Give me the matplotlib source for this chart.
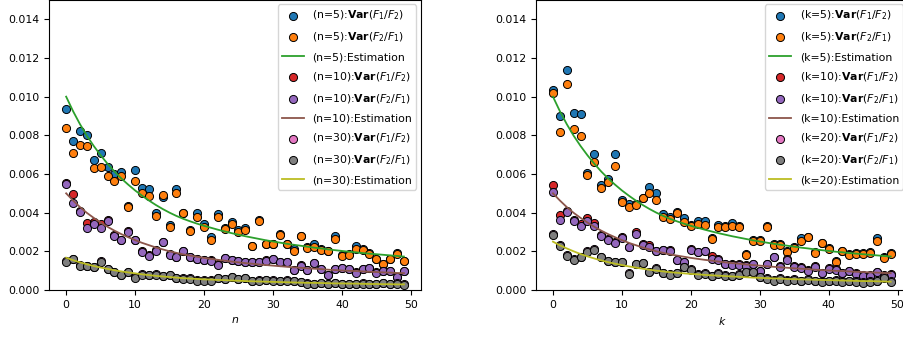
import numpy as np
import matplotlib
matplotlib.use("Agg")
import matplotlib.pyplot as plt

# x positions (0..49) shared by every series
steps = list(range(50))

# ---------- left panel: n = 5, 10, 30 ----------
n5_f12 = [0.00936, 0.00772, 0.00824, 0.0080, 0.0067, 0.0071, 0.00638, 0.0060, 0.0061, 0.00435,
          0.0062, 0.00526, 0.0052, 0.0040, 0.00483, 0.00336, 0.00522, 0.0040, 0.0031, 0.0040,
          0.0034, 0.00274, 0.00393, 0.0032, 0.00353, 0.0031, 0.00319, 0.0023, 0.0036, 0.0024,
          0.0024, 0.0029, 0.0024, 0.0021, 0.0028, 0.0022, 0.00236, 0.0021, 0.0020, 0.00278,
          0.0018, 0.00185, 0.00228, 0.0021, 0.0019, 0.0016, 0.00136, 0.0016, 0.0019, 0.0015]
n5_f21 = [0.0084, 0.00709, 0.00752, 0.00745, 0.0063, 0.00635, 0.00588, 0.00564, 0.00588, 0.0043,
          0.00564, 0.0050, 0.00485, 0.00383, 0.0049, 0.00328, 0.0050, 0.00398, 0.00306, 0.00377,
          0.00327, 0.00261, 0.00376, 0.00315, 0.00343, 0.00298, 0.0031, 0.00229, 0.00359, 0.00238,
          0.00238, 0.00285, 0.00237, 0.00204, 0.0028, 0.00217, 0.00221, 0.00207, 0.0020, 0.00262,
          0.00176, 0.00183, 0.00212, 0.00207, 0.00186, 0.0016, 0.00134, 0.0016, 0.00186, 0.00148]
n10_f12 = [0.00555, 0.00497, 0.0041, 0.00345, 0.0035, 0.00341, 0.0036, 0.00285, 0.0026, 0.00305,
           0.0026, 0.0020, 0.0018, 0.00205, 0.0025, 0.00185, 0.0017, 0.00202, 0.00172, 0.0016,
           0.00156, 0.00153, 0.00132, 0.00165, 0.00157, 0.0015, 0.00147, 0.00145, 0.00144, 0.00153,
           0.0016, 0.00145, 0.00144, 0.00105, 0.00127, 0.00105, 0.0014, 0.0011, 0.0008, 0.0011,
           0.00116, 0.00108, 0.00092, 0.0011, 0.00115, 0.00091, 0.00097, 0.0010, 0.00066, 0.00097]
n10_f21 = [0.00547, 0.0045, 0.00403, 0.00319, 0.0034, 0.00319, 0.00359, 0.00281, 0.00259, 0.00302,
           0.00257, 0.00197, 0.00178, 0.00203, 0.00247, 0.00183, 0.00169, 0.0020, 0.00171, 0.00158,
           0.00155, 0.00152, 0.0013, 0.00164, 0.00155, 0.00148, 0.00146, 0.00144, 0.00143, 0.00152,
           0.00158, 0.00144, 0.00143, 0.00103, 0.00126, 0.00103, 0.00138, 0.00109, 0.00079, 0.00109,
           0.00114, 0.00107, 0.0009, 0.00109, 0.00114, 0.0009, 0.00096, 0.00098, 0.00065, 0.00096]
n30_f12 = [0.0015, 0.00162, 0.00128, 0.00124, 0.00119, 0.00149, 0.00109, 0.00093, 0.00078, 0.00093,
           0.00066, 0.00081, 0.00078, 0.00081, 0.00074, 0.00078, 0.00064, 0.00061, 0.00061, 0.0005,
           0.0005, 0.0005, 0.00064, 0.00059, 0.00067, 0.00059, 0.00064, 0.00047, 0.0005, 0.00054,
           0.0005, 0.00047, 0.0005, 0.00047, 0.00041, 0.00035, 0.00033, 0.00038, 0.00033, 0.00036,
           0.00033, 0.00031, 0.00033, 0.00035, 0.00031, 0.00033, 0.00036, 0.00033, 0.00035, 0.0003]
n30_f21 = [0.00147, 0.0016, 0.00126, 0.00122, 0.00117, 0.00147, 0.00107, 0.00091, 0.00076, 0.00091,
           0.00064, 0.00079, 0.00076, 0.00079, 0.00072, 0.00076, 0.00062, 0.00059, 0.00059, 0.00048,
           0.00048, 0.00048, 0.00062, 0.00057, 0.00065, 0.00057, 0.00062, 0.00045, 0.00048, 0.00052,
           0.00048, 0.00045, 0.00048, 0.00045, 0.00039, 0.00033, 0.00031, 0.00036, 0.00031, 0.00034,
           0.00031, 0.00029, 0.00031, 0.00033, 0.00029, 0.00031, 0.00034, 0.00031, 0.00033, 0.00028]

# ---------- right panel: k = 5, 10, 20 ----------
k5_f12 = [0.01035, 0.0090, 0.01136, 0.00914, 0.00909, 0.00607, 0.00705, 0.00545, 0.00576, 0.00702,
          0.00467, 0.00447, 0.00445, 0.00478, 0.00531, 0.0050, 0.00393, 0.00376, 0.00402, 0.00372,
          0.00338, 0.00355, 0.00355, 0.0027, 0.00338, 0.00332, 0.00345, 0.00332, 0.00185, 0.0026,
          0.0026, 0.0033, 0.00238, 0.00238, 0.0020, 0.00222, 0.00267, 0.00276, 0.00195, 0.00245,
          0.00216, 0.0015, 0.00204, 0.00185, 0.0019, 0.0019, 0.00195, 0.00271, 0.0017, 0.0019]
k5_f21 = [0.01017, 0.00819, 0.01064, 0.00831, 0.00798, 0.00597, 0.00664, 0.00526, 0.00557, 0.0064,
          0.00455, 0.00431, 0.0044, 0.00474, 0.00503, 0.00466, 0.00379, 0.00367, 0.00398, 0.00352,
          0.00333, 0.00341, 0.00336, 0.00264, 0.00328, 0.00328, 0.00331, 0.00328, 0.00181, 0.00255,
          0.00255, 0.00326, 0.00233, 0.00233, 0.00195, 0.00218, 0.00255, 0.00272, 0.00191, 0.00241,
          0.00212, 0.00147, 0.0020, 0.00181, 0.00186, 0.00186, 0.00191, 0.00255, 0.00167, 0.00186]
k10_f12 = [0.00543, 0.0039, 0.0041, 0.00362, 0.0034, 0.00372, 0.00345, 0.00285, 0.00262, 0.00246,
           0.00274, 0.00224, 0.00298, 0.00237, 0.00234, 0.00204, 0.00209, 0.00206, 0.00156, 0.00146,
           0.0021, 0.00198, 0.00203, 0.00177, 0.00158, 0.00137, 0.00134, 0.00134, 0.00129, 0.00137,
           0.00099, 0.00137, 0.00172, 0.00123, 0.0016, 0.00123, 0.00117, 0.00103, 0.00123, 0.00089,
           0.00112, 0.00106, 0.00089, 0.00099, 0.00086, 0.00077, 0.00077, 0.00094, 0.00077, 0.00082]
k10_f21 = [0.00507, 0.00362, 0.00405, 0.00359, 0.00333, 0.00359, 0.00333, 0.00281, 0.00259, 0.00243,
           0.00271, 0.00221, 0.0029, 0.00233, 0.00224, 0.0020, 0.00205, 0.00203, 0.00153, 0.00143,
           0.00207, 0.00195, 0.0020, 0.0016, 0.00155, 0.00134, 0.00131, 0.00131, 0.00126, 0.00134,
           0.00096, 0.00134, 0.00169, 0.0012, 0.00157, 0.0012, 0.00114, 0.0010, 0.0012, 0.00086,
           0.00109, 0.00103, 0.00086, 0.00096, 0.00083, 0.00074, 0.00074, 0.00091, 0.00074, 0.00079]
k20_f12 = [0.0029, 0.00232, 0.0018, 0.00158, 0.00172, 0.002, 0.0021, 0.00172, 0.0015, 0.00146,
           0.00146, 0.00086, 0.00137, 0.00141, 0.00094, 0.00112, 0.0009, 0.00081, 0.00089, 0.0012,
           0.00106, 0.00081, 0.00086, 0.00073, 0.00086, 0.00077, 0.00073, 0.00081, 0.00094, 0.00094,
           0.00068, 0.0006, 0.00051, 0.0006, 0.00051, 0.00055, 0.00048, 0.00055, 0.00048, 0.00044,
           0.00048, 0.00051, 0.00044, 0.00048, 0.00044, 0.00039, 0.00044, 0.00048, 0.00065, 0.00044]
k20_f21 = [0.00286, 0.00229, 0.00177, 0.00155, 0.00169, 0.00198, 0.00207, 0.00169, 0.00148, 0.00143,
           0.00143, 0.00083, 0.00134, 0.00139, 0.00091, 0.00109, 0.00087, 0.00078, 0.00086, 0.00117,
           0.00103, 0.00078, 0.00083, 0.0007, 0.00083, 0.00074, 0.0007, 0.00078, 0.00091, 0.00091,
           0.00065, 0.00057, 0.00048, 0.00057, 0.00048, 0.00052, 0.00045, 0.00052, 0.00045, 0.00041,
           0.00045, 0.00048, 0.00041, 0.00045, 0.00041, 0.00036, 0.00041, 0.00045, 0.00062, 0.00041]

# ---------- estimation curves ----------
est_5 = [0.01000, 0.00925, 0.00858, 0.00798, 0.00745, 0.00697, 0.00653, 0.00613, 0.00577, 0.00545,
         0.00515, 0.00488, 0.00463, 0.00440, 0.00419, 0.00400, 0.00383, 0.00368, 0.00355, 0.00343,
         0.00332, 0.00322, 0.00312, 0.00303, 0.00294, 0.00286, 0.00278, 0.00271, 0.00264, 0.00257,
         0.00251, 0.00245, 0.00239, 0.00234, 0.00229, 0.00224, 0.00219, 0.00215, 0.00210, 0.00206,
         0.00202, 0.00198, 0.00195, 0.00191, 0.00188, 0.00185, 0.00182, 0.00179, 0.00176, 0.00173]
est_10 = [0.00500, 0.00463, 0.00429, 0.00399, 0.00373, 0.00349, 0.00327, 0.00307, 0.00289, 0.00273,
          0.00258, 0.00244, 0.00232, 0.00220, 0.00210, 0.00200, 0.00192, 0.00184, 0.00178, 0.00172,
          0.00166, 0.00161, 0.00156, 0.00152, 0.00147, 0.00143, 0.00139, 0.00136, 0.00132, 0.00129,
          0.00126, 0.00123, 0.00120, 0.00117, 0.00115, 0.00112, 0.00110, 0.00108, 0.00105, 0.00103,
          0.00101, 0.00099, 0.00098, 0.00096, 0.00094, 0.00093, 0.00091, 0.00090, 0.00088, 0.00087]
est_30 = [0.00167, 0.00154, 0.00143, 0.00133, 0.00124, 0.00116, 0.00109, 0.00102, 0.00096, 0.00091,
          0.00086, 0.00081, 0.00077, 0.00073, 0.00070, 0.00067, 0.00064, 0.00061, 0.00059, 0.00057,
          0.00055, 0.00054, 0.00052, 0.00051, 0.00049, 0.00048, 0.00046, 0.00045, 0.00044, 0.00043,
          0.00042, 0.00041, 0.00040, 0.00039, 0.00038, 0.00037, 0.00037, 0.00036, 0.00035, 0.00034,
          0.00034, 0.00033, 0.00033, 0.00032, 0.00031, 0.00031, 0.00030, 0.00030, 0.00029, 0.00029]
est_20 = [0.00250, 0.00231, 0.00215, 0.00200, 0.00186, 0.00174, 0.00163, 0.00153, 0.00144, 0.00136,
          0.00129, 0.00122, 0.00116, 0.00110, 0.00105, 0.00100, 0.00096, 0.00092, 0.00089, 0.00086,
          0.00083, 0.00081, 0.00078, 0.00076, 0.00074, 0.00072, 0.00070, 0.00068, 0.00066, 0.00064,
          0.00063, 0.00061, 0.00060, 0.00059, 0.00057, 0.00056, 0.00055, 0.00054, 0.00053, 0.00052,
          0.00051, 0.00050, 0.00049, 0.00048, 0.00047, 0.00046, 0.00046, 0.00045, 0.00044, 0.00043]

# one colour per series, tab10 order (scatter, scatter, line) x 3
colors = ["tab:blue", "tab:orange", "tab:green",
          "tab:red", "tab:purple", "tab:brown",
          "tab:pink", "tab:gray", "tab:olive"]

plt.rcParams["font.size"] = 7.8

fig = plt.figure(figsize=(9.04, 3.37), dpi=100)
# the original image is cropped: top at ylim=0.015 and right panel runs past the edge
ax1 = fig.add_axes([0.0545, 0.1395, 0.411, 0.8605])
ax2 = fig.add_axes([0.593, 0.1395, 0.411, 0.8605])


def draw_panel(ax, letter, groups, xlabel):
    c = iter(colors)
    for val, f12, f21, est in groups:
        ax.scatter(steps, f12, s=34, color=next(c), edgecolors="black", linewidths=0.7,
                   label=f"({letter}={val}):" + r"$\mathbf{Var}(F_1/F_2)$")
        ax.scatter(steps, f21, s=34, color=next(c), edgecolors="black", linewidths=0.7,
                   label=f"({letter}={val}):" + r"$\mathbf{Var}(F_2/F_1)$")
        ax.plot(steps, est, lw=1.3, color=next(c), label=f"({letter}={val}):Estimation")
    ax.set_ylim(0, 0.015)
    ax.set_yticks(np.arange(0, 0.0141, 0.002))
    ax.set_xlabel(xlabel)
    ax.legend(loc="upper right", fontsize=7.8, labelspacing=0.75, borderaxespad=0.4)


draw_panel(ax1, "n", [(5, n5_f12, n5_f21, est_5),
                      (10, n10_f12, n10_f21, est_10),
                      (30, n30_f12, n30_f21, est_30)], "$n$")
draw_panel(ax2, "k", [(5, k5_f12, k5_f21, est_5),
                      (10, k10_f12, k10_f21, est_10),
                      (20, k20_f12, k20_f21, est_20)], "$k$")

fig.savefig("out.png", dpi=100)
